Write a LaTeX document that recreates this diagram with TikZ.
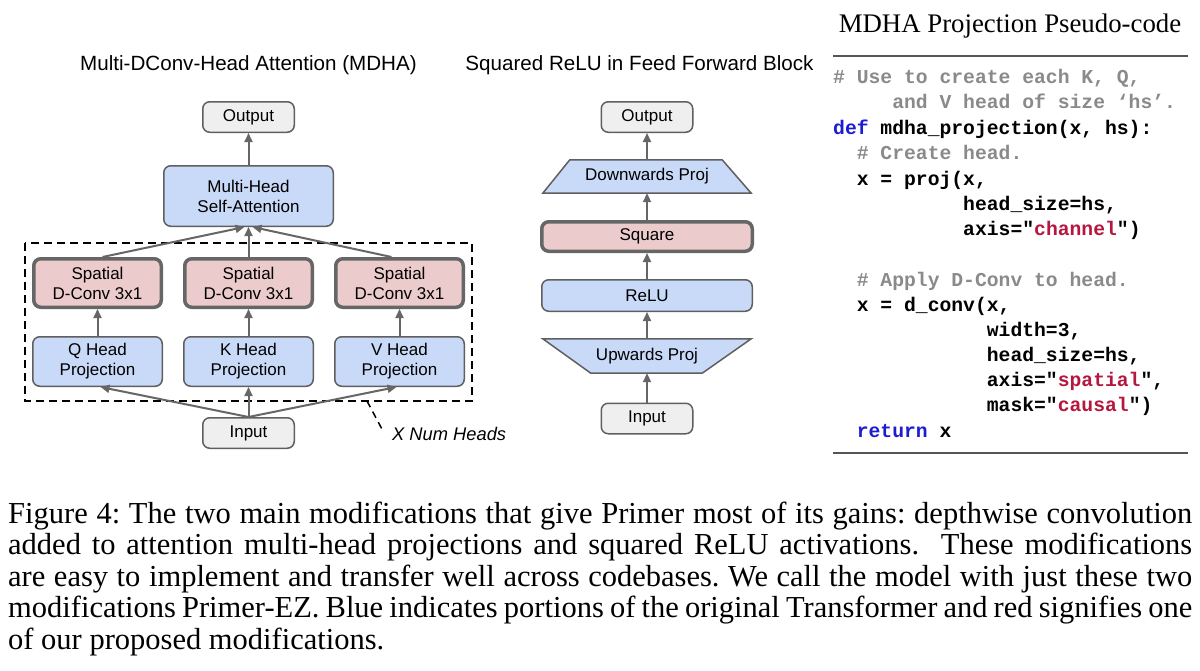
\documentclass[tikz,border=0pt]{standalone}
\usepackage{fontspec}
\setmainfont{Liberation Serif}
\setsansfont{Liberation Sans}
\newfontfamily\codefont{Liberation Mono}
\usetikzlibrary{arrows.meta,backgrounds}
\definecolor{bluefill}{HTML}{C9DAF8}
\definecolor{redfill}{HTML}{EBCBCB}
\definecolor{grayfill}{HTML}{EFEFEF}
\definecolor{edgec}{HTML}{5F5F5F}
\definecolor{redge}{HTML}{666666}
\definecolor{arrowc}{HTML}{666666}
\definecolor{cmt}{HTML}{8A8A8A}
\definecolor{kw}{HTML}{1C1CD0}
\definecolor{strc}{HTML}{B5173F}
\definecolor{rulec}{HTML}{555555}
\tikzset{
  box/.style={draw=edgec, line width=1.5pt, rounded corners=7pt, align=center,
    font=\sffamily\fontsize{17}{20}\selectfont, inner sep=0pt},
  iobox/.style={box, fill=grayfill, minimum width=91.5pt, minimum height=30.5pt},
  bluebox/.style={box, fill=bluefill},
  redbox/.style={box, fill=redfill, draw=redge, line width=3.5pt},
  trapbox/.style={draw=edgec, line width=1.5pt, fill=bluefill},
  plainlbl/.style={inner sep=0pt, font=\sffamily\fontsize{17}{20}\selectfont},
  arr/.style={draw=arrowc, line width=2pt, -{Triangle[length=9pt,width=8pt]}},
  headtitle/.style={font=\sffamily\fontsize{20.6}{24}\selectfont, inner sep=0pt},
  codeline/.style={anchor=base west, inner sep=0pt, font=\codefont\bfseries\fontsize{19.7}{25}\selectfont},
  dashbox/.style={draw=black, line width=1.8pt, dash pattern=on 8pt off 5pt},
}
\newcommand{\ind}[1]{\phantom{#1}}
\begin{document}
\begin{tikzpicture}[x=1pt,y=-1pt]
\useasboundingbox (0,0) rectangle (1200,670);

% ---------- MDHA ----------
\node[headtitle] (t1) at (248.5,65) {Multi-DConv-Head Attention (MDHA)};
\draw[dashbox] (25,243) rectangle (472,401);
\node[iobox] (out1) at (248.5,117) {Output};
\node[bluebox, minimum width=169.5pt, minimum height=60.5pt] (mhsa) at (248.5,196) {Multi-Head\\Self-Attention};
\node[redbox, minimum width=127.5pt, minimum height=48.5pt] (sq1) at (97.5,283) {Spatial\\D-Conv 3x1};
\node[redbox, minimum width=127.5pt, minimum height=48.5pt] (sq2) at (248.5,283) {Spatial\\D-Conv 3x1};
\node[redbox, minimum width=127.5pt, minimum height=48.5pt] (sq3) at (399.5,283) {Spatial\\D-Conv 3x1};
\node[bluebox, minimum width=129.5pt, minimum height=49.5pt] (qp) at (97.5,361.5) {Q Head\\Projection};
\node[bluebox, minimum width=129.5pt, minimum height=49.5pt] (kp) at (248.5,361.5) {K Head\\Projection};
\node[bluebox, minimum width=129.5pt, minimum height=49.5pt] (vp) at (399.5,361.5) {V Head\\Projection};
\node[iobox] (in1) at (248.5,433) {Input};

\draw[arr] (mhsa.north) -- (out1.south);
\draw[arr] ([xshift=5pt]sq1.north) -- ([xshift=-4pt]mhsa.south);
\draw[arr] (sq2.north) -- (mhsa.south);
\draw[arr] ([xshift=-8pt]sq3.north) -- ([xshift=4pt]mhsa.south);
\draw[arr] (qp.north) -- (sq1.south);
\draw[arr] (kp.north) -- (sq2.south);
\draw[arr] (vp.north) -- (sq3.south);
\draw[arr] (in1.north) -- ([xshift=3pt]qp.south);
\draw[arr] (in1.north) -- (kp.south);
\draw[arr] (in1.north) -- ([xshift=-3pt]vp.south);

\coordinate (xa) at (367,401);
\coordinate (xb) at (383,431);
\node[plainlbl, anchor=west, font=\sffamily\itshape\fontsize{18.3}{21}\selectfont] (xlbl) at (392,434) {X Num Heads};
\draw[draw=black, line width=1.5pt, dash pattern=on 7pt off 5pt] (xa) -- (xb);

% ---------- FFN ----------
\node[headtitle] (t2) at (639.5,65) {Squared ReLU in Feed Forward Block};
\node[iobox] (out2) at (647,117) {Output};
\node[plainlbl, minimum width=208pt, minimum height=33pt] (down) at (647,176.5) {Downwards Proj};
\node[redbox, minimum width=210.5pt, minimum height=29.5pt] (sqr) at (647,236.5) {Square};
\node[bluebox, minimum width=210.5pt, minimum height=31.5pt] (relu) at (647,295.5) {ReLU};
\node[plainlbl, minimum width=208pt, minimum height=34pt] (up) at (647,356) {Upwards Proj};
\node[iobox] (in2) at (647,418.5) {Input};
\begin{scope}[on background layer]
\draw[trapbox, line join=miter] ([xshift=27pt]down.north west) -- ([xshift=-29pt]down.north east) -- (down.south east) -- (down.south west) -- cycle;
\draw[trapbox, line join=miter] (up.north west) -- (up.north east) -- ([xshift=-49pt]up.south east) -- ([xshift=48pt]up.south west) -- cycle;
\end{scope}

\draw[arr] (down.north) -- (out2.south);
\draw[arr] (sqr.north) -- (down.south);
\draw[arr] (relu.north) -- (sqr.south);
\draw[arr] (up.north) -- (relu.south);
\draw[arr] (in2.north) -- (up.south);

% ---------- Pseudo-code ----------
\node[inner sep=0pt, font=\fontsize{26.8}{30}\selectfont] (t3) at (1010,26) {MDHA Projection Pseudo-code};
\draw[rulec, line width=1.3pt] (833,56) -- (1188,56);
\draw[rulec, line width=1.3pt] (833,453) -- (1188,453);
\node[codeline] (c1) at (833,83) {\color{cmt}\# Use to create each K, Q,};
\node[codeline] (c2) at (833,108) {\ind{aaaaa}\color{cmt}and V head of size ‘hs’.};
\node[codeline] (c3) at (833,134) {{\color{kw}def} mdha\_projection(x, hs):};
\node[codeline] (c4) at (833,159) {\ind{aa}\color{cmt}\# Create head.};
\node[codeline] (c5) at (833,185) {\ind{aa}x = proj(x,};
\node[codeline] (c6) at (833,210) {\ind{aaaaaaaaaaa}head\_size=hs,};
\node[codeline] (c7) at (833,235) {\ind{aaaaaaaaaaa}axis="{\color{strc}channel}")};
\node[codeline] (c9) at (833,286) {\ind{aa}\color{cmt}\# Apply D-Conv to head.};
\node[codeline] (c10) at (833,311) {\ind{aa}x = d\_conv(x,};
\node[codeline] (c11) at (833,336) {\ind{aaaaaaaaaaaaa}width=3,};
\node[codeline] (c12) at (833,361) {\ind{aaaaaaaaaaaaa}head\_size=hs,};
\node[codeline] (c13) at (833,386) {\ind{aaaaaaaaaaaaa}axis="{\color{strc}spatial}",};
\node[codeline] (c14) at (833,411) {\ind{aaaaaaaaaaaaa}mask="{\color{strc}causal}")};
\node[codeline] (c15) at (833,437) {\ind{aa}{\color{kw}return} x};

% ---------- Caption ----------
\node[anchor=base west, inner sep=0pt, font=\fontsize{30.5}{31.6}\selectfont] (cap) at (8,523) {\vtop{\hsize=1184pt\baselineskip=31.6pt\frenchspacing
\hbox to\hsize{Figure 4: The two main modifications that give Primer most of its gains: depthwise convolution}
\hbox to\hsize{added to attention multi-head projections and squared ReLU activations.\ \ These modifications}
\hbox to\hsize{are easy to implement and transfer well across codebases. We call the model with just these two}
\hbox to\hsize{modifications Primer-EZ. Blue indicates portions of the original Transformer and red signifies one}
\hbox{of our proposed modifications.}}};
\end{tikzpicture}
\end{document}
